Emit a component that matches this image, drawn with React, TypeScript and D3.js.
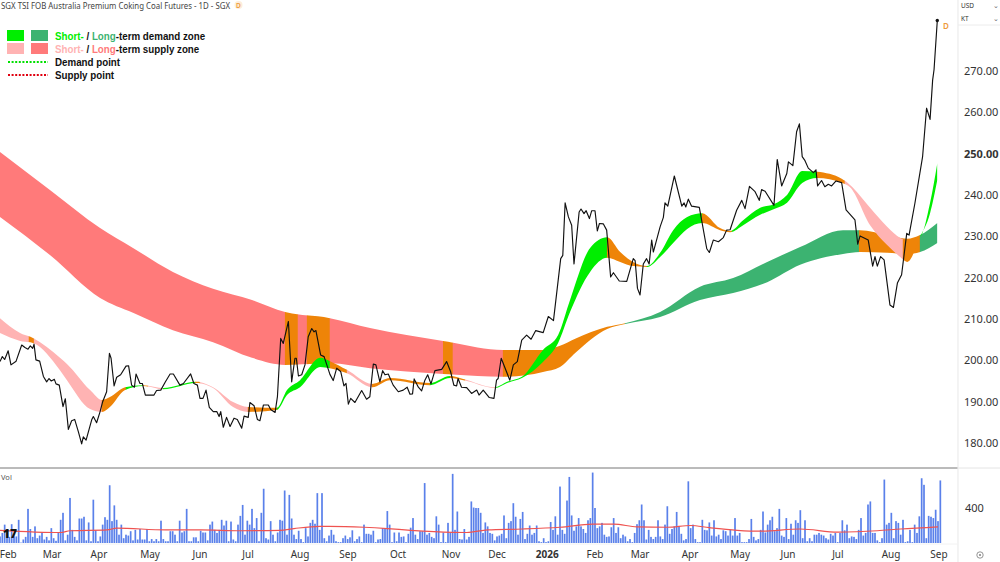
import * as d3 from "d3";

const WIDTH = 1000;
const HEIGHT = 562;
const FONT = "'Noto Sans', sans-serif";

// price axis
const priceTicks = [180, 190, 200, 210, 220, 230, 240, 250, 260, 270];

// month labels, placed by daily bar number
const monthLabels = ["Feb", "Mar", "Apr", "May", "Jun", "Jul", "Aug", "Sep", "Oct", "Nov", "Dec", "2026", "Feb", "Mar", "Apr", "May", "Jun", "Jul", "Aug", "Sep"];
const monthBars = [3.5, 22.3, 42.4, 64.3, 85.7, 106.3, 128.6, 149.1, 170.6, 193.3, 213, 234.5, 255, 274.3, 295.7, 317.2, 337.7, 359.1, 381.9, 402.4];

// closing price, turning points only: [bar, price]
const closePoints: [number, number][] = [
  [0, 199.7], [1, 200.9], [2, 200.2], [3.5, 202.3], [4.7, 198.9], [6.9, 199.8], [9.3, 203.7], [10.7, 203.1], [12, 202.7], [13, 203.5],
  [14, 202.9], [14.6, 203.9], [15.4, 200.1], [17, 199.8], [18.6, 196.1], [20, 194.8], [21, 195.6], [22, 195], [23.3, 195.4], [24, 194.3],
  [25.4, 194], [27, 188.8], [28, 190.7], [29.3, 183.3], [30.7, 185.4], [32, 185.7], [33.6, 182.7], [35, 179.8], [35.7, 181.5], [36.9, 180.7],
  [39.3, 185.6], [40, 186.4], [41.4, 184.9], [42.9, 187.6], [44, 190], [45.7, 192.4], [46.9, 201.7], [47.6, 200.5], [48.9, 193.8], [50, 195.9],
  [51.7, 196.5], [54, 198.6], [55.1, 198.7], [56.4, 194], [57.6, 193.5], [58.3, 196.7], [60, 194.4], [61, 194.4], [62.3, 191.6], [66, 191.6],
  [67.1, 192.7], [68.9, 192.8], [70.9, 194.8], [72.9, 196.7], [74.3, 196.7], [77.1, 194], [78.6, 194.4], [81.7, 196.7], [83.1, 194.4], [84.6, 194],
  [85.7, 190.8], [87, 190.8], [88.3, 192.8], [89.7, 188.6], [91.4, 187.6], [92.9, 187.6], [93.9, 186.4], [94.6, 187.6], [95.7, 183.8], [97.1, 186.2],
  [98.6, 184], [100.3, 186], [101.7, 185.7], [103.6, 183.6], [104.6, 186.5], [106.4, 186.2], [107.1, 189.8], [108.9, 189], [110.3, 185.7], [111.4, 185.4],
  [112.9, 189.2], [115, 189.2], [116, 188.1], [117.9, 187.4], [118.9, 191.2], [120.3, 205.3], [121.4, 204.1], [123.6, 209.4], [125, 194.8], [126.4, 200.5],
  [127, 200.5], [127.9, 196.2], [129.3, 196.5], [130.7, 198.9], [132.1, 205.7], [133.6, 207.7], [134.6, 206.9], [135.4, 207.2], [137.4, 201.3], [138.9, 200.9],
  [141.4, 196.6], [142.8, 195.1], [144.3, 198.1], [146, 197.3], [147.4, 193.8], [148.3, 194.4], [149.3, 189.4], [150.3, 190.8], [152.1, 189.8], [155, 192.7],
  [157.1, 190.6], [158.5, 191.2], [160, 199.1], [161.1, 198.9], [162.8, 194.8], [164, 197.5], [165, 196.5], [166.4, 196.7], [168.5, 194], [170.7, 192.4],
  [172.8, 192.8], [174.5, 193.5], [175.7, 191.8], [176.8, 191.9], [177.5, 195.5], [179.3, 193.5], [180.7, 192.6], [182.1, 195.2], [183.3, 196.5], [184.7, 194.3],
  [186.4, 197.5], [189.3, 197.8], [191.4, 199.7], [193.1, 197.3], [194.5, 194], [195.7, 193.8], [196.3, 195.6], [197.8, 193.5], [200, 193.4], [202.1, 192],
  [204.3, 192.8], [205.3, 191.6], [207.1, 192.8], [209.7, 191], [211.7, 190.8], [212.8, 195.2], [213.5, 195.6], [214.8, 200.5], [218.5, 195.2], [220, 198.9],
  [221.7, 199.7], [223.6, 204.9], [225.7, 206.1], [227.6, 205.1], [229.6, 207.2], [232.8, 206.7], [235, 210.6], [237.2, 209.6], [240.3, 224.6], [241.2, 225.4],
  [242.2, 238.1], [243.6, 234.7], [245, 232.7], [246, 223.3], [248.2, 235.9], [249, 236.6], [250.3, 235.5], [251.2, 236.2], [252.6, 234.3], [253.6, 236.2],
  [255, 236.2], [256, 231.3], [256.9, 233.1], [258.6, 233], [260, 231.5], [261.7, 220.2], [262.9, 221.2], [265.4, 219.2], [268.6, 219.1], [271.4, 224.6],
  [272.2, 224.1], [273.2, 217.4], [274.3, 215.8], [275.7, 223.3], [277.1, 224.6], [278.2, 223.3], [279.3, 229.1], [280, 226.2], [282.9, 232.3], [284.3, 234.6],
  [285, 238.1], [286.2, 237.3], [289, 244.6], [292.2, 237.3], [293.2, 238.1], [293.9, 237.1], [295, 239], [296.4, 237.3], [299.7, 237], [300.7, 233.9],
  [302.9, 227], [304, 226.1], [305.7, 229.1], [307.9, 228.7], [310, 229.7], [311.4, 231.5], [312.9, 231.6], [315.7, 236.3], [317.9, 238.7], [319.3, 236.7],
  [321.2, 242.1], [323.6, 240.8], [325.4, 238.7], [326.4, 241.3], [327.9, 240.9], [331.7, 237.5], [333.1, 248.6], [335, 242.2], [337.2, 245.2], [337.9, 248],
  [339.8, 247.1], [341.4, 255.3], [342.6, 257.2], [343.8, 249.3], [345, 248.3], [346.4, 246.5], [348.6, 245.4], [349.7, 246.1], [350.4, 242.2], [352.1, 243.5],
  [353.5, 242], [355, 242.6], [356.4, 242.2], [358.3, 243.4], [360.7, 243], [362.6, 236.4], [366.4, 234], [367.6, 228.1], [368.6, 230.1], [372.1, 229.1],
  [374, 222.8], [375, 225.1], [376, 222.8], [377.4, 225.1], [378.9, 224.3], [381.4, 213.4], [382.9, 212.8], [384.6, 218.7], [386.4, 220.7], [388.6, 230.7],
  [389.6, 230.3], [392.1, 238], [395.4, 249.3], [397.1, 261], [398.6, 258.3], [399.7, 267.8], [400.3, 270.3], [401.7, 282.2],
];

// long-term zone edges
const longBars = [0, 21.4, 42.9, 57, 74.1, 91.3, 108, 122.2, 141.4, 158.6, 189.9, 215.6, 232.7, 240, 246.5, 260.2, 267.9, 282.9, 300, 314.2, 328.8, 342.9, 361.3, 368.6, 380.2, 388.8, 394.3, 401.7];
const longUpper = [250.4, 241.2, 232, 227.2, 221.4, 217.3, 214.6, 211.7, 210.2, 207.8, 204.7, 202.5, 202.5, 203.5, 205.2, 208.1, 209, 211.7, 217.8, 219.9, 223.8, 227.4, 231.5, 231.5, 230.3, 229.4, 230.3, 233.2];
const longLower = [234.7, 225.5, 215.1, 211.5, 207.3, 204.4, 200.6, 198.9, 199.3, 198.1, 196.7, 196, 197.2, 198.4, 201.8, 207.6, 208.8, 210.5, 214.6, 216.3, 218.9, 223.1, 225.7, 226.2, 226, 225.7, 226.2, 228.4];

// short-term zone edges
const shortBars = [0, 8.6, 14.1, 25.7, 28.7, 38.6, 43.7, 47.1, 53.6, 61.3, 69.9, 84.4, 91.3, 99.9, 106.3, 118.7, 123, 128.6, 137.2, 141.4, 148.7, 159.5, 167.2, 184.3, 192.9, 198.5, 212.2, 217.3, 223.7, 232.7, 239.2, 244.3, 252.9, 260.2, 265.8, 271.3, 277.3, 282.9, 288.5, 294.5, 300.9, 308.6, 312.9, 318.5, 325.8, 331.8, 337.3, 343.8, 350.2, 360.9, 364.3, 372.9, 380.2, 385.8, 388.8, 394.3, 398.6, 401.7];
const shortUpper = [210.2, 206.6, 205.4, 200.6, 199.1, 192.8, 190.4, 191.1, 193.5, 194, 193.3, 194.8, 193.5, 189.9, 188.7, 188.5, 192.8, 195.2, 200.6, 199.8, 197.7, 194.3, 195.7, 194.5, 196.2, 195.5, 193.5, 194.8, 196, 202.5, 206.1, 214.6, 227.2, 229.8, 226.2, 223.8, 222.8, 226, 231.5, 234.7, 235.6, 232, 231.3, 233.9, 236.9, 237.8, 240, 245.8, 245.6, 243.9, 242.4, 236.9, 232.3, 229.6, 229.1, 229.8, 238.1, 247.7];
const shortLower = [206.6, 204.7, 204.2, 197.6, 195.2, 188.2, 187.5, 188.7, 192.8, 193.8, 193, 194.5, 193.3, 188.7, 187.5, 188, 191.6, 193.5, 198.4, 198.1, 196.9, 193.5, 195.2, 194, 195.7, 195.2, 193.3, 194.5, 195.7, 199.6, 204.2, 211.7, 221.4, 224.8, 223.8, 222.8, 222.6, 225, 228.4, 231.8, 233.2, 231.5, 231, 232.7, 235.2, 236.6, 238.1, 242.9, 244.1, 242.9, 241.9, 232.7, 227.9, 225, 223.8, 229.8, 235.6, 243.6];

// zone state changes: bar where each stretch ends, and its state
const longZoneEnds = [122.2, 127.7, 131.6, 141.4, 189.9, 194.1, 215.6, 267.9, 368.2, 394.3, 401.7];
const longZoneStates = ["supply", "both", "supply", "both", "supply", "both", "supply", "both", "demand", "both", "demand"];
const shortZoneEnds = [12.4, 14.6, 43.7, 54, 61.3, 63.4, 69.9, 83.6, 85.7, 106.3, 118.7, 141.4, 148.7, 159.5, 184.3, 192.9, 199.3, 212.2, 260.2, 277.3, 300.9, 313.7, 350.2, 362.1, 387, 394.3, 401.7];
const shortZoneStates = ["supply", "both", "supply", "both", "demand", "both", "supply", "demand", "both", "supply", "both", "demand", "both", "supply", "both", "demand", "both", "supply", "demand", "both", "demand", "both", "demand", "both", "supply", "both", "demand"];

// volume, one per daily bar
const volume = [
  75, 115, 210, 135, 70, 215, 75, 75, 265, 5, 40, 70, 390, 160, 70, 190, 55, 85, 120, 40, 70, 30, 170, 55, 25, 115, 265, 345, 30, 95,
  515, 150, 70, 30, 280, 280, 300, 30, 235, 20, 495, 145, 20, 75, 210, 295, 265, 660, 250, 430, 265, 95, 210, 55, 95, 85, 135, 30, 150, 40,
  160, 40, 40, 160, 20, 45, 20, 45, 20, 255, 45, 20, 20, 135, 135, 95, 20, 255, 120, 135, 390, 20, 20, 65, 65, 20, 140, 120, 120, 30,
  210, 245, 150, 115, 150, 265, 200, 255, 20, 245, 40, 20, 210, 310, 435, 95, 255, 210, 390, 170, 285, 20, 345, 620, 55, 40, 250, 95, 20, 120,
  265, 255, 600, 95, 550, 280, 95, 45, 140, 45, 10, 170, 75, 230, 265, 220, 570, 150, 570, 55, 20, 85,
  150, 95, 20, 10, 10, 55, 85, 45, 65, 145, 20, 45, 75, 10, 210, 105, 105, 95, 140, 10, 40, 45, 170, 170, 365, 210, 10, 120, 20, 120,
  70, 75, 10, 105, 175, 285, 95, 45, 135, 135, 685, 95, 115, 70, 55, 305, 210, 10, 120, 10, 230, 115, 790, 150, 360, 45, 40, 160, 40, 70,
  475, 405, 400, 400, 345, 115, 235, 190, 115, 105, 30, 75, 85, 105, 315, 55, 230, 250, 455, 300, 95, 275, 355, 45, 105, 200, 95, 115, 200, 20,
  10, 55, 10, 20, 240, 150, 305, 95, 645, 150, 105, 485, 755, 315, 140, 190, 285, 190, 160, 115, 260, 285, 805, 400, 170, 190, 230, 95, 70, 75,
  180, 285, 115, 180, 55, 95, 75, 20, 45, 10, 115, 215, 260, 440, 260, 40, 150, 70, 45, 70, 260, 75, 45, 210, 420,
  105, 160, 190, 355, 190, 105, 30, 45, 705, 170, 210, 45, 10, 10, 265, 150, 145, 235, 85, 260, 75, 95, 45, 145, 135, 85, 150, 85, 285, 85,
  115, 10, 10, 10, 45, 275, 70, 30, 45, 150, 360, 120, 210, 260, 300, 135, 170, 390, 85, 70, 285, 45, 220, 95, 260, 230, 375, 55, 260, 20,
  55, 20, 95, 95, 115, 95, 85, 55, 40, 105, 85, 115, 10, 115, 260, 145, 210, 55, 75, 70, 45, 150, 285, 85, 115, 440, 475, 115, 115, 30,
  10, 55, 725, 210, 230, 345, 55, 250, 230, 95, 265, 10, 20, 150, 10, 210, 115, 305, 740, 665, 55, 310, 300, 285, 380, 250, 715,
];

// volume average, smooth line: bar and value
const avgBars = [0, 26, 30, 46, 50, 71, 86, 103, 120, 126, 137, 141, 156, 166, 176, 186, 200, 209, 224, 240, 254, 263, 273, 286, 296, 304, 316, 326, 343, 359, 376, 386, 402];
const avgValues = [145, 120, 140, 150, 170, 150, 150, 140, 145, 165, 190, 190, 180, 165, 145, 130, 120, 150, 160, 180, 215, 215, 185, 180, 200, 175, 145, 135, 160, 125, 140, 160, 185];

const ZONE_COLORS: Record<string, Record<string, string>> = {
  long: { supply: "#ff7a7a", demand: "#3cb371", both: "#ee8408" },
  short: { supply: "#ffb3b3", demand: "#00ee00", both: "#ee8408" },
};

const x = d3.scaleLinear().domain([0, 402]).range([0, 938]);
const yPrice = d3.scaleLinear().domain([180, 270]).range([443, 71]);
const yVol = d3.scaleLinear().domain([0, 400]).range([543, 508]);

function Zone({ id, bars, upper, lower, ends, states, colors }: {
  id: string; bars: number[]; upper: number[]; lower: number[]; ends: number[]; states: string[]; colors: Record<string, string>;
}) {
  const area = d3
    .area<number>()
    .x((d) => x(d))
    .y0((_, i) => yPrice(lower[i]))
    .y1((_, i) => yPrice(upper[i]))
    .curve(d3.curveMonotoneX);
  const path = area(bars) ?? "";

  return (
    <g>
      {ends.map((end, i) => {
        const from = i === 0 ? 0 : ends[i - 1];
        return (
          <g key={i}>
            <clipPath id={`${id}-${i}`}>
              <rect x={x(from) - 0.2} y={0} width={x(end) - x(from) + 0.4} height={HEIGHT} />
            </clipPath>
            <path d={path} fill={colors[states[i]]} clipPath={`url(#${id}-${i})`} />
          </g>
        );
      })}
    </g>
  );
}

export default function App() {
  const closeLine = d3
    .line<[number, number]>()
    .x((d) => x(d[0]))
    .y((d) => yPrice(d[1]));

  const avgLine = d3
    .line<number>()
    .x((d) => x(d))
    .y((_, i) => yVol(avgValues[i]))
    .curve(d3.curveMonotoneX);

  const last = closePoints[closePoints.length - 1];

  return (
    <svg
      width={WIDTH}
      height={HEIGHT}
      viewBox={`0 0 ${WIDTH} ${HEIGHT}`}
      style={{ position: "absolute", left: 0, top: 0, background: "#fff" }}
    >
      {/* zones */}
      <Zone id="long" bars={longBars} upper={longUpper} lower={longLower} ends={longZoneEnds} states={longZoneStates} colors={ZONE_COLORS.long} />
      <Zone id="short" bars={shortBars} upper={shortUpper} lower={shortLower} ends={shortZoneEnds} states={shortZoneStates} colors={ZONE_COLORS.short} />

      {/* price */}
      <path d={closeLine(closePoints) ?? ""} fill="none" stroke="#111" strokeWidth={1.15} strokeLinejoin="round" />
      <circle cx={x(last[0])} cy={yPrice(last[1])} r={1.7} fill="#111" />
      <text x={946} y={29} fontFamily={FONT} fontSize={8} fontWeight={600} fill="#ee9a3a" textAnchor="middle">D</text>

      {/* title */}
      <text x={1} y={9} fontFamily={FONT} fontSize={8} fill="#444" textLength={229} lengthAdjust="spacingAndGlyphs">SGX TSI FOB Australia Premium Coking Coal Futures - 1D - SGX</text>
      <circle cx={238.5} cy={5} r={4} fill="#fdeeda" />
      <text x={238.5} y={7.5} fontFamily={FONT} fontSize={6.5} fontWeight={600} fill="#ee9a3a" textAnchor="middle">D</text>

      {/* legend */}
      <g fontFamily="'Liberation Sans', Arial, sans-serif" fontWeight={700} fontSize={11.5} fill="#111">
        <rect x={7} y={30} width={17} height={11} fill="#00ee00" />
        <rect x={31} y={30} width={17} height={11} fill="#3cb371" />
        <text transform="translate(55,40) scale(0.85,1)">
          <tspan fill="#00ee00">Short-</tspan> / <tspan fill="#3cb371">Long</tspan>-term demand zone
        </text>
        <rect x={7} y={43} width={17} height={11} fill="#ffb3b3" />
        <rect x={31} y={43} width={17} height={11} fill="#ff7a7a" />
        <text transform="translate(55,53) scale(0.85,1)">
          <tspan fill="#ffb3b3">Short-</tspan> / <tspan fill="#ff7a7a">Long</tspan>-term supply zone
        </text>
        <line x1={8} x2={48} y1={62} y2={62} stroke="#00e000" strokeWidth={2} strokeDasharray="2 1.6" />
        <text transform="translate(55,66) scale(0.85,1)">Demand point</text>
        <line x1={8} x2={48} y1={75} y2={75} stroke="#e00010" strokeWidth={2} strokeDasharray="2 1.6" />
        <text transform="translate(55,79) scale(0.85,1)">Supply point</text>
      </g>

      {/* pane divider and scale frame */}
      <line x1={0} x2={958} y1={468} y2={468} stroke="#777" strokeWidth={1} />
      <line x1={958} x2={1000} y1={468} y2={468} stroke="#e4e4e4" strokeWidth={1} />
      <line x1={958} x2={958} y1={0} y2={HEIGHT} stroke="#ececec" strokeWidth={1.2} />
      <line x1={958} x2={1000} y1={25} y2={25} stroke="#ececec" strokeWidth={1} />
      <line x1={0} x2={958} y1={544} y2={544} stroke="#f2f2f2" strokeWidth={1} />
      <g fontFamily={FONT} fontSize={6.5} fill="#333">
        <text x={961} y={8}>USD</text>
        <text x={961} y={21}>KT</text>
        <text x={996} y={8} textAnchor="middle" fill="#666">⌄</text>
        <text x={996} y={21} textAnchor="middle" fill="#666">⌄</text>
      </g>

      {/* price scale */}
      <g fontFamily={FONT} fontSize={11} fill="#333">
        {priceTicks.map((t) => (
          <text key={t} x={964} y={yPrice(t) + 4} fontWeight={t === 250 ? 700 : 400}>
            {t.toFixed(2)}
          </text>
        ))}
        <text x={965} y={yVol(400) + 4}>400</text>
      </g>

      {/* volume */}
      <text x={1} y={480} fontFamily={FONT} fontSize={7.5} fill="#555">Vol</text>
      {volume.map((v, i) => (
        <rect key={i} x={x(i) - 0.85} y={yVol(v)} width={1.7} height={yVol(0) - yVol(v)} fill="#5a80ea" />
      ))}
      <path d={avgLine(avgBars) ?? ""} fill="none" stroke="#ef5350" strokeWidth={1.2} />
      <text x={3} y={538} fontFamily={FONT} fontSize={12} fontWeight={900} fill="#111">17</text>

      {/* time scale */}
      <g fontFamily={FONT} fontSize={10} fill="#333" textAnchor="middle">
        {monthLabels.map((m, i) => (
          <text key={i} x={x(monthBars[i])} y={558} fontWeight={m === "2026" ? 700 : 400}>
            {m}
          </text>
        ))}
      </g>
      <circle cx={980} cy={555} r={3.2} fill="none" stroke="#888" strokeWidth={0.9} />
      <circle cx={980} cy={555} r={1.1} fill="#888" />
    </svg>
  );
}
